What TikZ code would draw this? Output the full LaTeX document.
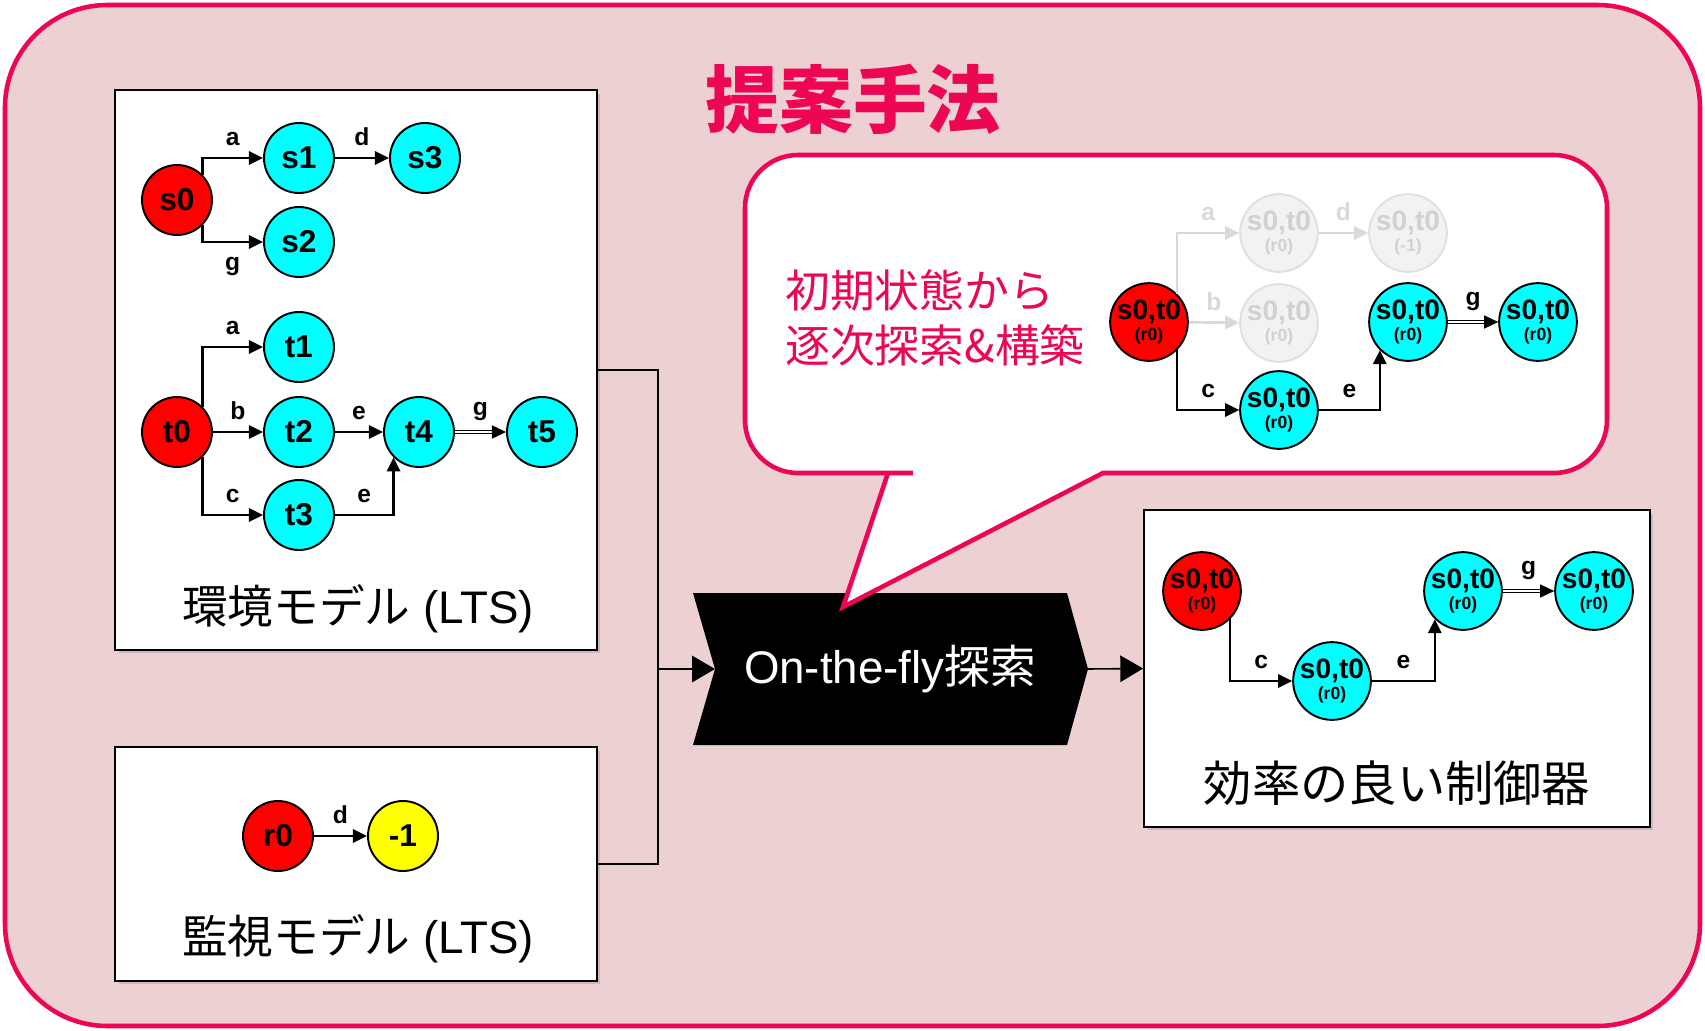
\documentclass[tikz,border=0pt]{standalone}
\usepackage{fontspec}
\setmainfont{Liberation Sans}
\newfontfamily\jp{Noto Sans CJK JP}
\usetikzlibrary{arrows.meta,shadows}
\definecolor{accent}{RGB}{236,6,84}
\definecolor{bgpink}{RGB}{237,208,210}
\definecolor{stred}{RGB}{255,0,0}
\definecolor{stcyan}{RGB}{0,255,255}
\definecolor{styellow}{RGB}{255,255,0}
\newcommand{\rtag}[1]{{\fontsize{10}{10}\selectfont(#1)}}
\tikzset{
  state/.style={circle, draw, line width=1.1pt, minimum size=1.4cm, inner sep=0pt,
    font=\bfseries\fontsize{18}{18}\selectfont},
  bigstate/.style={state, minimum size=1.52cm, align=center,
    font=\bfseries\fontsize{16}{12}\selectfont},
  ghost/.style={bigstate, draw=black!12, fill=black!5, text=black!18},
  tr/.style={line width=1.5pt, -{Triangle[length=8pt,width=7.5pt]}},
  grtr/.style={tr, draw=black!15},
  dbl/.style={double, double distance=0.8pt, line width=0.5pt, -{Triangle[length=8pt,width=7.5pt]}},
  lbl/.style={font=\bfseries\fontsize{14}{14}\selectfont, inner sep=0pt},
  panel/.style={draw, line width=1pt, fill=white,
    drop shadow={opacity=0.3, shadow xshift=2pt, shadow yshift=-2pt}},
  flow/.style={line width=0.9pt, -{Triangle[length=13pt,width=15pt]}},
  boxlbl/.style={font=\fontsize{26}{26}\selectfont},
}
\begin{document}
\begin{tikzpicture}[x=0.02cm, y=-0.02cm]
\useasboundingbox (0,0) rectangle (1705,1031);
% frame and title
\draw[accent, line width=2.6pt, fill=bgpink, rounded corners=2.05cm] (5,5) rectangle (1700,1026);
\node[text=accent, font=\jp\bfseries\fontsize{42}{42}\selectfont] (title) at (853,99) {提案手法};

% panels
\node[panel, minimum width=9.64cm, minimum height=11.2cm] (envbox) at (356,370) {};
\node[panel, minimum width=9.64cm, minimum height=4.68cm] (monbox) at (356,864) {};
\node[panel, minimum width=10.12cm, minimum height=6.34cm] (ctrlbox) at (1397,668.5) {};
\node[boxlbl] (envlbl) at (358,609) {{\jp 環境モデル} (LTS)};
\node[boxlbl] (monlbl) at (358,939) {{\jp 監視モデル} (LTS)};
\node[boxlbl, font=\jp\fontsize{27.5}{28}\selectfont] (ctrllbl) at (1397,783) {効率の良い制御器};

% search step
\fill (693,593) -- (1067,593) -- (1088,669) -- (1067,745) -- (693,745) -- (715,669) -- cycle;
\node[text=white, font=\fontsize{26}{26}\selectfont] (search) at (890,669) {On-the-fly{\jp 探索}};
\coordinate (searchin) at (715,669);
\coordinate (searchout) at (1088,669);
\coordinate (join) at (658,669);
\draw[line width=0.9pt] (envbox.east) -| (join);
\draw[line width=0.9pt] (monbox.east) -| (join);
\draw[flow] (join) -- (searchin);
\draw[flow] (searchout) -- (ctrlbox.west);

% environment LTS
\node[state, fill=stred] (s0) at (177,200) {s0};
\foreach \n/\x/\y in {s1/299/158, s2/299/242, s3/425/158}
  \node[state, fill=stcyan] (\n) at (\x,\y) {\n};
\draw[tr] (s0.north east) |- (s1) node[lbl, pos=0.75, above=6pt] {a};
\draw[tr] (s0.south east) |- (s2) node[lbl, pos=0.75, below=8pt] {g};
\draw[tr] (s1) -- (s3) node[lbl, midway, above=6pt] {d};
\node[state, fill=stred] (t0) at (177,432) {t0};
\foreach \n/\x/\y in {t1/299/347, t2/299/432, t3/299/515, t4/419/432, t5/542/432}
  \node[state, fill=stcyan] (\n) at (\x,\y) {\n};
\draw[tr] (t0.north east) |- (t1) node[lbl, pos=0.75, above=6pt] {a};
\draw[tr] (t0) -- (t2) node[lbl, midway, above=6pt] {b};
\draw[tr] (t0.south east) |- (t3) node[lbl, pos=0.75, above=6pt] {c};
\draw[tr] (t2) -- (t4) node[lbl, midway, above=6pt] {e};
\draw[tr] (t3) -| (t4.south west) node[lbl, pos=0.25, above=6pt] {e};
\draw[dbl] (t4) -- (t5) node[lbl, midway, above=6pt] {g};

% monitor LTS
\node[state, fill=stred] (r0) at (278,836) {r0};
\node[state, fill=styellow] (rm1) at (403,836) {-1};
\draw[tr] (r0) -- (rm1) node[lbl, midway, above=6pt] {d};

% controller
\node[bigstate, fill=stred] (c0) at (1202,591) {s0,t0\\\rtag{r0}};
\node[bigstate, fill=stcyan] (cc) at (1332,681) {s0,t0\\\rtag{r0}};
\node[bigstate, fill=stcyan] (ce) at (1463,591) {s0,t0\\\rtag{r0}};
\node[bigstate, fill=stcyan] (cg) at (1594,591) {s0,t0\\\rtag{r0}};
\draw[tr] (c0.south east) |- (cc) node[lbl, pos=0.75, above=6pt] {c};
\draw[tr] (cc) -| (ce.south west) node[lbl, pos=0.25, above=6pt] {e};
\draw[dbl] (ce) -- (cg) node[lbl, midway, above=6pt] {g};

% callout
\draw[accent, line width=2.6pt, fill=white] (888,473) -- (843,607) -- (1103,473) -- (1250,473)
  [rounded corners=1.06cm] -- (1607,473) -- (1607,155) -- (745,155) -- (745,473) -- (860,473)
  [sharp corners] -- cycle;
\node[anchor=west, align=left, text=accent, font=\jp\fontsize{25.5}{31}\selectfont, inner sep=0pt]
  (hint) at (785,318) {初期状態から\\逐次探索\&構築};
\node[bigstate, fill=stred] (p0) at (1149,322) {s0,t0\\\rtag{r0}};
\node[ghost] (pa) at (1279,233) {s0,t0\\\rtag{r0}};
\node[ghost] (pd) at (1408,233) {s0,t0\\\rtag{-1}};
\node[ghost] (pb) at (1279,323) {s0,t0\\\rtag{r0}};
\node[bigstate, fill=stcyan] (pc) at (1279,410) {s0,t0\\\rtag{r0}};
\node[bigstate, fill=stcyan] (pe) at (1408,322) {s0,t0\\\rtag{r0}};
\node[bigstate, fill=stcyan] (pg) at (1538,322) {s0,t0\\\rtag{r0}};
\draw[grtr] (p0.north east) |- (pa) node[lbl, text=black!15, pos=0.75, above=6pt] {a};
\draw[grtr] (pa) -- (pd) node[lbl, text=black!15, midway, above=6pt] {d};
\draw[grtr] (p0) -- (pb) node[lbl, text=black!15, midway, above=6pt] {b};
\draw[tr] (p0.south east) |- (pc) node[lbl, pos=0.75, above=6pt] {c};
\draw[tr] (pc) -| (pe.south west) node[lbl, pos=0.25, above=6pt] {e};
\draw[dbl] (pe) -- (pg) node[lbl, midway, above=6pt] {g};
\end{tikzpicture}
\end{document}
